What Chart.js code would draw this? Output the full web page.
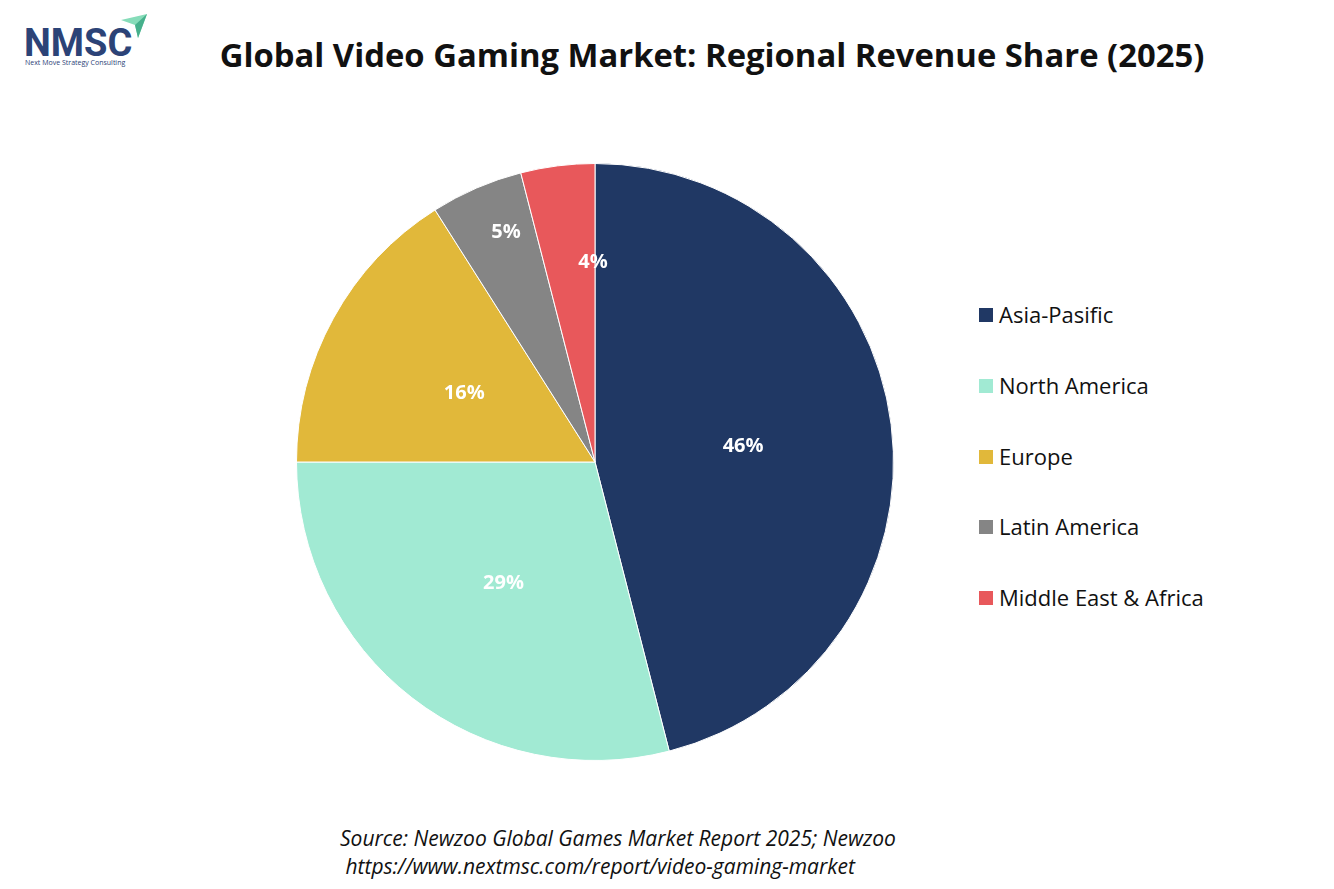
<!DOCTYPE html>
<html>
<head>
<meta charset="utf-8">
<script src="https://cdn.jsdelivr.net/npm/chart.js@4.4.1/dist/chart.umd.min.js"></script>
<style>
  html,body{margin:0;padding:0;background:#fff;}
  body{width:1334px;height:889px;position:relative;overflow:hidden;font-family:"Open Sans",sans-serif;}
  #title{position:absolute;left:0;width:1424px;top:33px;line-height:44px;text-align:center;font-weight:700;font-size:32.8px;color:#111;white-space:nowrap;}
  #logo{position:absolute;left:24px;top:14px;width:130px;height:56px;}
  #logo .nm{position:absolute;left:0;top:10px;font-family:Roboto,sans-serif;font-weight:700;font-size:38px;letter-spacing:0px;color:#2c4377;line-height:1;}
  #logo .sub{position:absolute;left:1px;top:44px;font-size:7px;color:#2c4377;white-space:nowrap;}
  #logo svg{position:absolute;left:97px;top:0;}
  #wrap{position:absolute;left:296px;top:163px;width:598px;height:598px;}
  #legend{position:absolute;left:979px;top:300px;}
  .li{position:absolute;left:0;height:28px;white-space:nowrap;font-size:22px;color:#111;}
  .li span.box{position:absolute;left:0;top:8px;width:14px;height:14px;}
  .li span.t{position:absolute;left:20px;top:0;line-height:28px;}
  #source{position:absolute;left:340px;top:824px;text-align:left;font-style:italic;font-size:21px;color:#111;line-height:28px;white-space:pre;}
</style>
</head>
<body>
<div id="logo">
  <svg width="32" height="26" viewBox="0 0 32 26"><polygon points="0,6 26,0 17,24 14,11" fill="#86dcb9"/><polygon points="14,11 26,0 17,24" fill="#46b08c"/></svg>
  <div class="nm">NMSC</div>
  <div class="sub">Next Move Strategy Consulting</div>
</div>
<div id="title">Global Video Gaming Market: Regional Revenue Share (2025)</div>
<div id="wrap"><canvas id="c"></canvas></div>
<div id="legend"></div>
<div id="source">Source: Newzoo Global Games Market Report 2025; Newzoo
 https://www.nextmsc.com/report/video-gaming-market</div>
<script>
const regions = ["Asia-Pasific", "North America", "Europe", "Latin America", "Middle East & Africa"];
const shares = [46, 29, 16, 5, 4];
const colors = ["#203864", "#A1EAD3", "#E1B83A", "#858585", "#E8585B"];

// label placement style: fraction along the slice angle, and fraction of the radius
const labelPlacement = [
  { a: 0.5, r: 0.5 },
  { a: 0.5, r: 0.5 },
  { a: 0.5, r: 0.5 },
  { a: 0.64, r: 0.836 },
  { a: 0.96, r: 0.68 }
];

const labelPlugin = {
  id: 'sliceLabels',
  afterDatasetsDraw(chart) {
    const ctx = chart.ctx;
    const meta = chart.getDatasetMeta(0);
    ctx.save();
    ctx.font = '700 20px "Open Sans", sans-serif';
    ctx.fillStyle = '#ffffff';
    ctx.textAlign = 'center';
    ctx.textBaseline = 'middle';
    meta.data.forEach((arc, i) => {
      const p = arc.getProps(['x','y','startAngle','endAngle','outerRadius'], true);
      const pl = labelPlacement[i];
      const ang = p.startAngle + (p.endAngle - p.startAngle) * pl.a;
      const r = p.outerRadius * pl.r;
      ctx.fillText(shares[i] + '%', p.x + Math.cos(ang) * r, p.y + Math.sin(ang) * r + 3);
    });
    ctx.restore();
  }
};

const chart = new Chart(document.getElementById('c'), {
  type: 'pie',
  data: {
    labels: regions,
    datasets: [{ data: shares, backgroundColor: colors, borderColor: '#ffffff', borderWidth: 1 }]
  },
  options: {
    responsive: true,
    maintainAspectRatio: false,
    animation: false,
    layout: { padding: 0 },
    plugins: { legend: { display: false }, tooltip: { enabled: false } }
  },
  plugins: [labelPlugin]
});

const legend = document.getElementById('legend');
regions.forEach((name, i) => {
  const d = document.createElement('div');
  d.className = 'li';
  d.style.top = (i * 70.8) + 'px';
  d.innerHTML = '<span class="box" style="background:' + colors[i] + '"></span><span class="t">' + name + '</span>';
  legend.appendChild(d);
});
</script>
</body>
</html>
